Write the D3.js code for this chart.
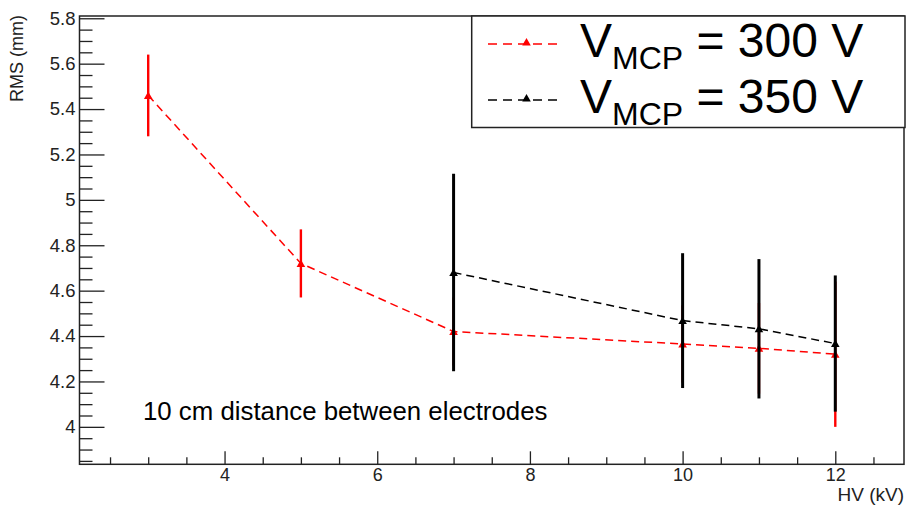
<!DOCTYPE html>
<html>
<head>
<meta charset="utf-8">
<script src="https://cdn.jsdelivr.net/npm/d3@7"></script>
<style>
 body { margin: 0; background: #fff; }
 svg { font-family: "Liberation Sans", Arial, Helvetica, sans-serif; }
</style>
</head>
<body>
<script>
// data
var hv300 = [3, 5, 7, 10, 11, 12];
var rms300 = [5.46, 4.72, 4.42, 4.365, 4.346, 4.32];
var err300 = [0.18, 0.15, 0.15, 0.17, 0.2, 0.32];

var hv350 = [7, 10, 11, 12];
var rms350 = [4.68, 4.468, 4.432, 4.367];
var err350 = [0.435, 0.297, 0.307, 0.30];

var xMajor = [4, 6, 8, 10, 12];
var yMajor = [4, 4.2, 4.4, 4.6, 4.8, 5, 5.2, 5.4, 5.6, 5.8];

var width = 906, height = 505;
var fLeft = 79.5, fRight = 904, fTop = 16, fBottom = 464.3;

var svg = d3.select("body").append("svg")
  .attr("width", width)
  .attr("height", height);

var x = d3.scaleLinear().domain([2.1, 12.9]).range([fLeft, fRight]);
var y = d3.scaleLinear().domain([3.835, 5.81]).range([fBottom, fTop]);

// minor ticks every 0.5 on x and 0.05 on y
var xMinor = d3.range(2.5, 12.9, 0.5).filter(function(v) { return xMajor.indexOf(v) < 0; });
var yMinor = d3.range(3.85, 5.81, 0.05).map(function(v) { return +v.toFixed(2); })
  .filter(function(v) { return yMajor.indexOf(v) < 0; });

var fmt = function(d) { return String(+d.toFixed(1)); };

// x axis
svg.append("g")
  .attr("transform", "translate(0," + fBottom + ")")
  .call(d3.axisBottom(x).tickValues(xMinor).tickSizeInner(-7).tickSizeOuter(0).tickFormat(""))
  .call(function(g) { g.select(".domain").remove(); });
svg.append("g")
  .attr("transform", "translate(0," + fBottom + ")")
  .call(d3.axisBottom(x).tickValues(xMajor).tickSizeInner(-13).tickSizeOuter(0).tickPadding(3.5).tickFormat(fmt))
  .call(function(g) { g.select(".domain").remove(); })
  .selectAll("text").attr("font-size", 18).attr("fill", "#222").attr("font-family", null);

// y axis
svg.append("g")
  .attr("transform", "translate(" + fLeft + ",0)")
  .call(d3.axisLeft(y).tickValues(yMinor).tickSizeInner(-13).tickSizeOuter(0).tickFormat(""))
  .call(function(g) { g.select(".domain").remove(); });
svg.append("g")
  .attr("transform", "translate(" + fLeft + ",0)")
  .call(d3.axisLeft(y).tickValues(yMajor).tickSizeInner(-25).tickSizeOuter(0).tickPadding(4).tickFormat(fmt))
  .call(function(g) { g.select(".domain").remove(); })
  .selectAll("text").attr("font-size", 18.5).attr("fill", "#222").attr("font-family", null);

svg.selectAll(".tick line").attr("stroke", "#222").attr("stroke-width", 1.3);

// frame
svg.append("rect")
  .attr("x", fLeft).attr("y", fTop)
  .attr("width", fRight - fLeft).attr("height", fBottom - fTop)
  .attr("fill", "none").attr("stroke", "#222").attr("stroke-width", 1.5);

// axis titles
svg.append("text")
  .attr("transform", "translate(23,15) rotate(-90)")
  .attr("text-anchor", "end")
  .attr("font-size", 18)
  .attr("fill", "#222")
  .text("RMS (mm)");

svg.append("text")
  .attr("x", 904).attr("y", 500.5)
  .attr("text-anchor", "end")
  .attr("font-size", 19)
  .attr("fill", "#222")
  .text("HV (kV)");

// series
function drawSeries(xs, ys, es, color, bw) {
  var pts = xs.map(function(v, i) { return { x: v, y: ys[i], e: es[i] }; });
  var g = svg.append("g");
  g.append("path")
    .datum(pts)
    .attr("fill", "none")
    .attr("stroke", color)
    .attr("stroke-width", 1.5)
    .attr("stroke-dasharray", "8,5")
    .attr("d", d3.line().x(function(d) { return x(d.x); }).y(function(d) { return y(d.y); }));
  g.selectAll(".err")
    .data(pts)
    .enter().append("line")
    .attr("x1", function(d) { return x(d.x); })
    .attr("x2", function(d) { return x(d.x); })
    .attr("y1", function(d) { return y(d.y - d.e); })
    .attr("y2", function(d) { return y(d.y + d.e); })
    .attr("stroke", color)
    .attr("stroke-width", bw);
  g.selectAll(".mk")
    .data(pts)
    .enter().append("path")
    .attr("transform", function(d) { return "translate(" + x(d.x) + "," + (y(d.y) + 1) + ")"; })
    .attr("d", d3.symbol().type(d3.symbolTriangle).size(32))
    .attr("fill", color);
}
drawSeries(hv300, rms300, err300, "#ff0000", 2.4);
drawSeries(hv350, rms350, err350, "#000000", 3);

// annotation
svg.append("text")
  .attr("x", 143).attr("y", 420)
  .attr("font-size", 25.8)
  .attr("fill", "#000")
  .text("10 cm distance between electrodes");

// legend
var legend = svg.append("g");
legend.append("rect")
  .attr("x", 471.7).attr("y", 16)
  .attr("width", 433.3).attr("height", 111.5)
  .attr("fill", "#fff").attr("stroke", "#222").attr("stroke-width", 1.5);

var legendItems = [
  { color: "#ff0000", label: "300", yy: 44, base: 56.7 },
  { color: "#000000", label: "350", yy: 100, base: 113 }
];
legendItems.forEach(function(it) {
  legend.append("line")
    .attr("x1", 488).attr("x2", 563)
    .attr("y1", it.yy).attr("y2", it.yy)
    .attr("stroke", it.color).attr("stroke-width", 1.5)
    .attr("stroke-dasharray", "9,6");
  legend.append("path")
    .attr("transform", "translate(526.5," + (it.yy - 1) + ")")
    .attr("d", d3.symbol().type(d3.symbolTriangle).size(32))
    .attr("fill", it.color);
  var t = legend.append("text")
    .attr("x", 580).attr("y", it.base)
    .attr("font-size", 48)
    .attr("fill", "#000");
  t.append("tspan").text("V");
  t.append("tspan").attr("dy", 12).attr("font-size", 32).text("MCP");
  t.append("tspan").attr("dy", -12).text(" = " + it.label + " V");
});
</script>
</body>
</html>
